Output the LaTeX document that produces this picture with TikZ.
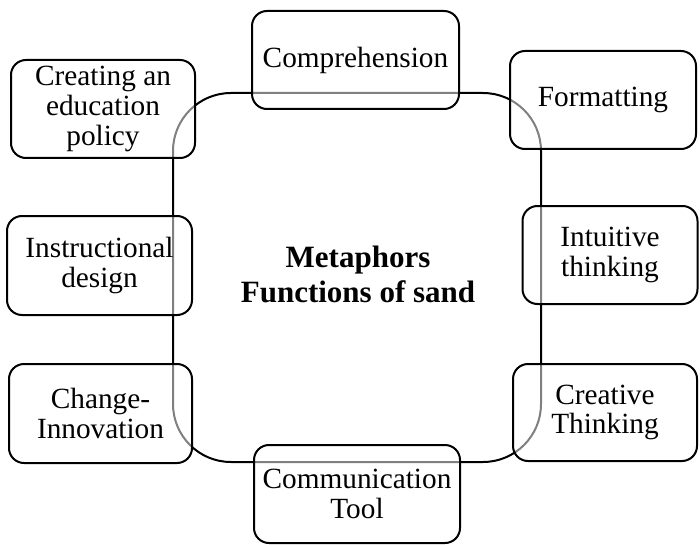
\documentclass[tikz,border=0pt]{standalone}
\usepackage{fontspec}
\setmainfont{Liberation Serif}
\begin{document}
\begin{tikzpicture}[x=1pt,y=-1pt,
  frame/.style={draw=black, line width=2pt, rounded corners=58pt, minimum width=368pt, minimum height=369pt, inner sep=0pt},
  item/.style={draw=black, line width=2pt, rounded corners=15pt, fill=white, fill opacity=0.5, text opacity=1, align=center, inner sep=0pt, font=\fontsize{29.3}{29.8}\selectfont},
  title/.style={align=center, font=\bfseries\fontsize{31}{35}\selectfont}]
\useasboundingbox (0,0) rectangle (700,545);
\node[frame] (big) at (357,277.5) {};
\node[title] (ttl) at (358,274) {Metaphors\\Functions of sand};
\node[item, minimum width=184pt, minimum height=98pt] (cre) at (103,109) {Creating an\\education\\policy};
\node[item, minimum width=207pt, minimum height=98pt] (com) at (355.5,60) {Comprehension};
\node[item, minimum width=186pt, minimum height=98pt] (for) at (603,100) {Formatting};
\node[item, minimum width=185pt, minimum height=99pt] (ins) at (99.5,265.5) {Instructional\\design};
\node[item, minimum width=175pt, minimum height=98pt] (int) at (610,255) {Intuitive\\thinking};
\node[item, minimum width=183pt, minimum height=99pt] (chg) at (100.5,413.5) {Change-\\Innovation};
\node[item, minimum width=184pt, minimum height=97pt] (crt) at (605,412.5) {Creative\\Thinking};
\node[item, minimum width=206pt, minimum height=98pt] (cmt) at (357,494) {Communication\\Tool};
\end{tikzpicture}
\end{document}
